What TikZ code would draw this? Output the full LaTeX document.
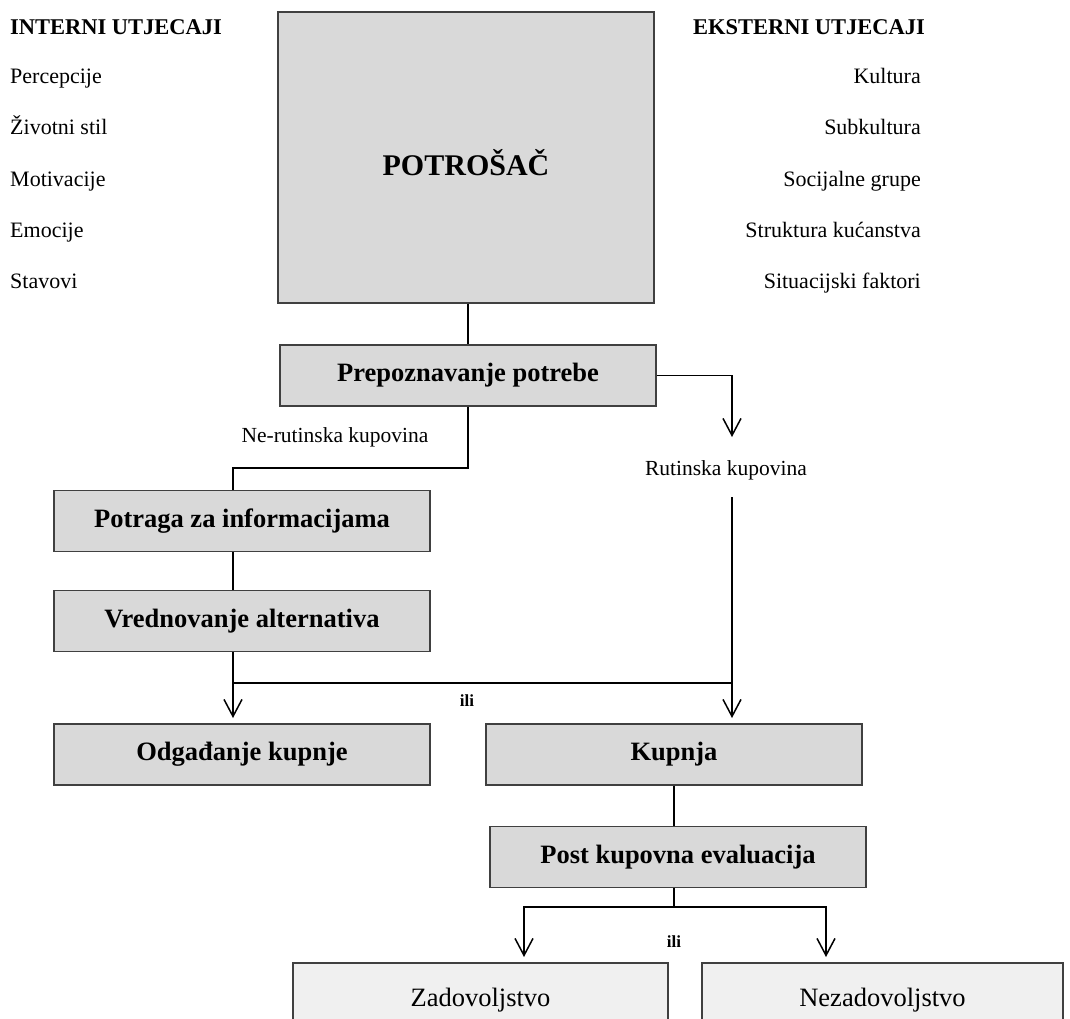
\documentclass[tikz,border=0pt]{standalone}
\usepackage{fontspec}
\setmainfont{Liberation Serif}
\usepackage{xcolor}
\usetikzlibrary{positioning,arrows.meta}

\begin{document}
\begin{tikzpicture}[x=1pt,y=-1pt,
  box/.style={draw=black!75,line width=1.1pt,fill=black!15,inner sep=0pt,
    minimum width=376pt,minimum height=61pt,font=\fontsize{26.5}{30}\selectfont\bfseries},
  endbox/.style={box,fill=black!6,minimum height=74pt,font=\fontsize{26.5}{30}\selectfont},
  lbl/.style={inner sep=0pt,font=\fontsize{22}{26}\selectfont},
  head/.style={inner sep=0pt,font=\fontsize{22.5}{26}\selectfont\bfseries},
  ili/.style={inner sep=0pt,font=\fontsize{17}{20}\selectfont\bfseries},
  conn/.style={line width=1.5pt},
  arr/.style={conn,-{Straight Barb[length=17pt,width=18pt]}}]
\useasboundingbox (0,0) rectangle (1070,1019);
\clip (0,0) rectangle (1070,1019);

  \node[box,minimum height=291pt,text height=36pt,font=\fontsize{30}{34}\selectfont\bfseries] (potrosac) at (466,157.5) {POTROŠAČ};
  \node[head] (interni) at (116,27) {INTERNI UTJECAJI};
  \node[head] (eksterni) at (809,27) {EKSTERNI UTJECAJI};
  \foreach \t [count=\i] in {Percepcije,Životni stil,Motivacije,Emocije,Stavovi}
    \node[lbl,anchor=base west] (int\i) at (10,{33+51*\i}) {\t};
  \foreach \t [count=\i] in {Kultura,Subkultura,Socijalne grupe,Struktura kućanstva,Situacijski faktori}
    \node[lbl,anchor=base east] (ext\i) at (921,{33+51*\i}) {\t};

  \node[box] (prepoznavanje) at (468,375.5) {Prepoznavanje potrebe};
  \node[box] (potraga) at (242,521) {Potraga za informacijama};
  \node[box] (vrednovanje) at (242,621) {Vrednovanje alternativa};
  \node[box] (odgadanje) at (242,754.5) {Odgađanje kupnje};
  \node[box] (kupnja) at (674,754.5) {Kupnja};
  \node[box] (post) at (678,857) {Post kupovna evaluacija};
  \node[endbox,minimum width=375pt] (zadovoljstvo) at (480.5,1000) {Zadovoljstvo};
  \node[endbox,minimum width=361pt] (nezadovoljstvo) at (882.5,1000) {Nezadovoljstvo};

  \node[lbl,font=\fontsize{21.5}{25}\selectfont] (nerutinska) at (335,437) {Ne-rutinska kupovina};
  \node[lbl,font=\fontsize{21.5}{25}\selectfont] (rutinska) at (726,470) {Rutinska kupovina};
  \node[ili] (ili1) at (467,701) {ili};
  \node[ili] (ili2) at (674,942) {ili};

  \coordinate (nr) at (233,468);
  \coordinate (lj) at (233,683);
  \coordinate (rj) at (732,683);
  \coordinate (pj) at (674,907);

  \draw[conn] (potrosac.south -| prepoznavanje) -- (prepoznavanje.north);
  \draw[conn] (prepoznavanje.south) |- (nr) -- (nr |- potraga.north);
  \draw[arr] (prepoznavanje.east) -| (732,437);
  \draw[conn] (nr |- potraga.south) -- (nr |- vrednovanje.north);
  \draw[arr] (nr |- vrednovanje.south) -- (lj) -- (233,718);
  \draw[arr] (732,497) -- (rj) -- (732,718);
  \draw[conn] (lj) -- (rj);
  \draw[conn] (kupnja.south) -- (kupnja.south |- post.north);
  \draw[conn] (kupnja.south |- post.south) -- (pj);
  \draw[arr] (pj) -| (524,957);
  \draw[arr] (pj) -| (826,957);
\end{tikzpicture}
\end{document}
